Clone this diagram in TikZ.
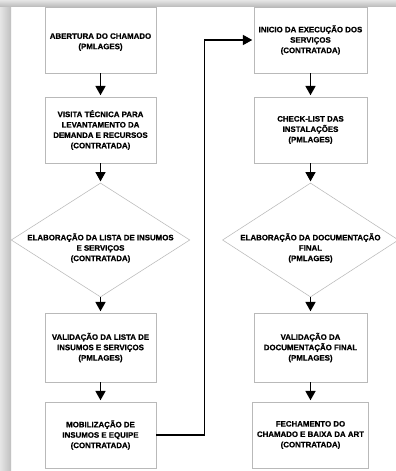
\documentclass[tikz,border=0pt]{standalone}
\usepackage{fontspec}
\setmainfont{Liberation Sans}
\newfontfamily\flowfont[BoldFeatures={FakeBold=0.8}]{Liberation Sans}
\usetikzlibrary{arrows.meta, shapes.geometric}
\tikzset{headarrow/.style = {-{Triangle[length=7pt, width=7.5pt]}, line width=1.1pt, shorten >=1pt}}
\tikzset{stepbox/.style = {rectangle, draw=gray!55, line width=.6pt, fill=white,
                           minimum height=49.5pt, align=center,
                           font=\fontsize{5.9}{7.8}\flowfont\bfseries}}
\tikzset{decision/.style = {diamond, draw=gray!55, line width=.4pt, inner sep=0pt,
                            minimum width=134pt, minimum height=85.5pt}}
\tikzset{decisiontext/.style = {align=center, yshift=-6pt,
                                font=\fontsize{5.9}{7.8}\flowfont\bfseries}}

\begin{document}
\begin{tikzpicture}[x=0.75pt, y=-0.75pt]
    \useasboundingbox (0,0) rectangle (396,471);
    \fill[white] (0,0) rectangle (396,471);
    % page shadow
    \shade[left color=gray!20, right color=gray!50] (0,0) rectangle (11,471);
    \shade[top color=gray!20, bottom color=gray!50] (0,0) rectangle (396,6);

    % left column
    \node (b1) at (100.5,40) [stepbox, minimum width=83.25pt, text height=15pt] {%
        ABERTURA DO CHAMADO\\(PMLAGES)};
    \node (b2) at (100.5,130) [stepbox, minimum width=83.25pt] {%
        VISITA TÉCNICA PARA\\LEVANTAMENTO DA\\DEMANDA E RECURSOS\\(CONTRATADA)};
    \node (d1) at (100.5,240) [decision,
        label={[decisiontext]center:ELABORAÇÃO DA LISTA DE INSUMOS\\E SERVIÇOS\\(CONTRATADA)}] {};
    \node (b3) at (100.5,347.5) [stepbox, minimum width=83.25pt, minimum height=51.75pt] {%
        VALIDAÇÃO DA LISTA DE\\INSUMOS E SERVIÇOS\\(PMLAGES)};
    \node (b4) at (100.5,435) [stepbox, minimum width=83.25pt] {%
        MOBILIZAÇÃO DE\\INSUMOS E EQUIPE\\(CONTRATADA)};

    % right column
    \node (b5) at (310.5,40) [stepbox, minimum width=84.75pt] {%
        INICIO DA EXECUÇÃO DOS\\SERVIÇOS\\(CONTRATADA)};
    \node (b6) at (310.5,130) [stepbox, minimum width=84.75pt] {%
        CHECK-LIST DAS\\INSTALAÇÕES\\(PMLAGES)};
    \node (d2) at (310.5,240) [decision, minimum width=132pt,
        label={[decisiontext]center:ELABORAÇÃO DA DOCUMENTAÇÃO\\FINAL\\(PMLAGES)}] {};
    \node (b7) at (310.5,347.5) [stepbox, minimum width=84.75pt, minimum height=51.75pt] {%
        VALIDAÇÃO DA\\DOCUMENTAÇÃO FINAL\\(PMLAGES)};
    \node (b8) at (310.5,435) [stepbox, minimum width=84.75pt] {%
        FECHAMENTO DO\\CHAMADO E BAIXA DA ART\\(CONTRATADA)};

    \foreach \Target [remember=\Target as \Source (initially b1)] in {%
        b2,
        d1,
        b3,
        b4%
        }
        \draw[headarrow] (\Source) to (\Target);

    \foreach \Target [remember=\Target as \Source (initially b5)] in {%
        b6,
        d2,
        b7,
        b8%
        }
        \draw[headarrow] (\Source) to (\Target);

    \draw[headarrow] (b4.east) -- ++(48,0) |- (b5.west);
\end{tikzpicture}
\end{document}
